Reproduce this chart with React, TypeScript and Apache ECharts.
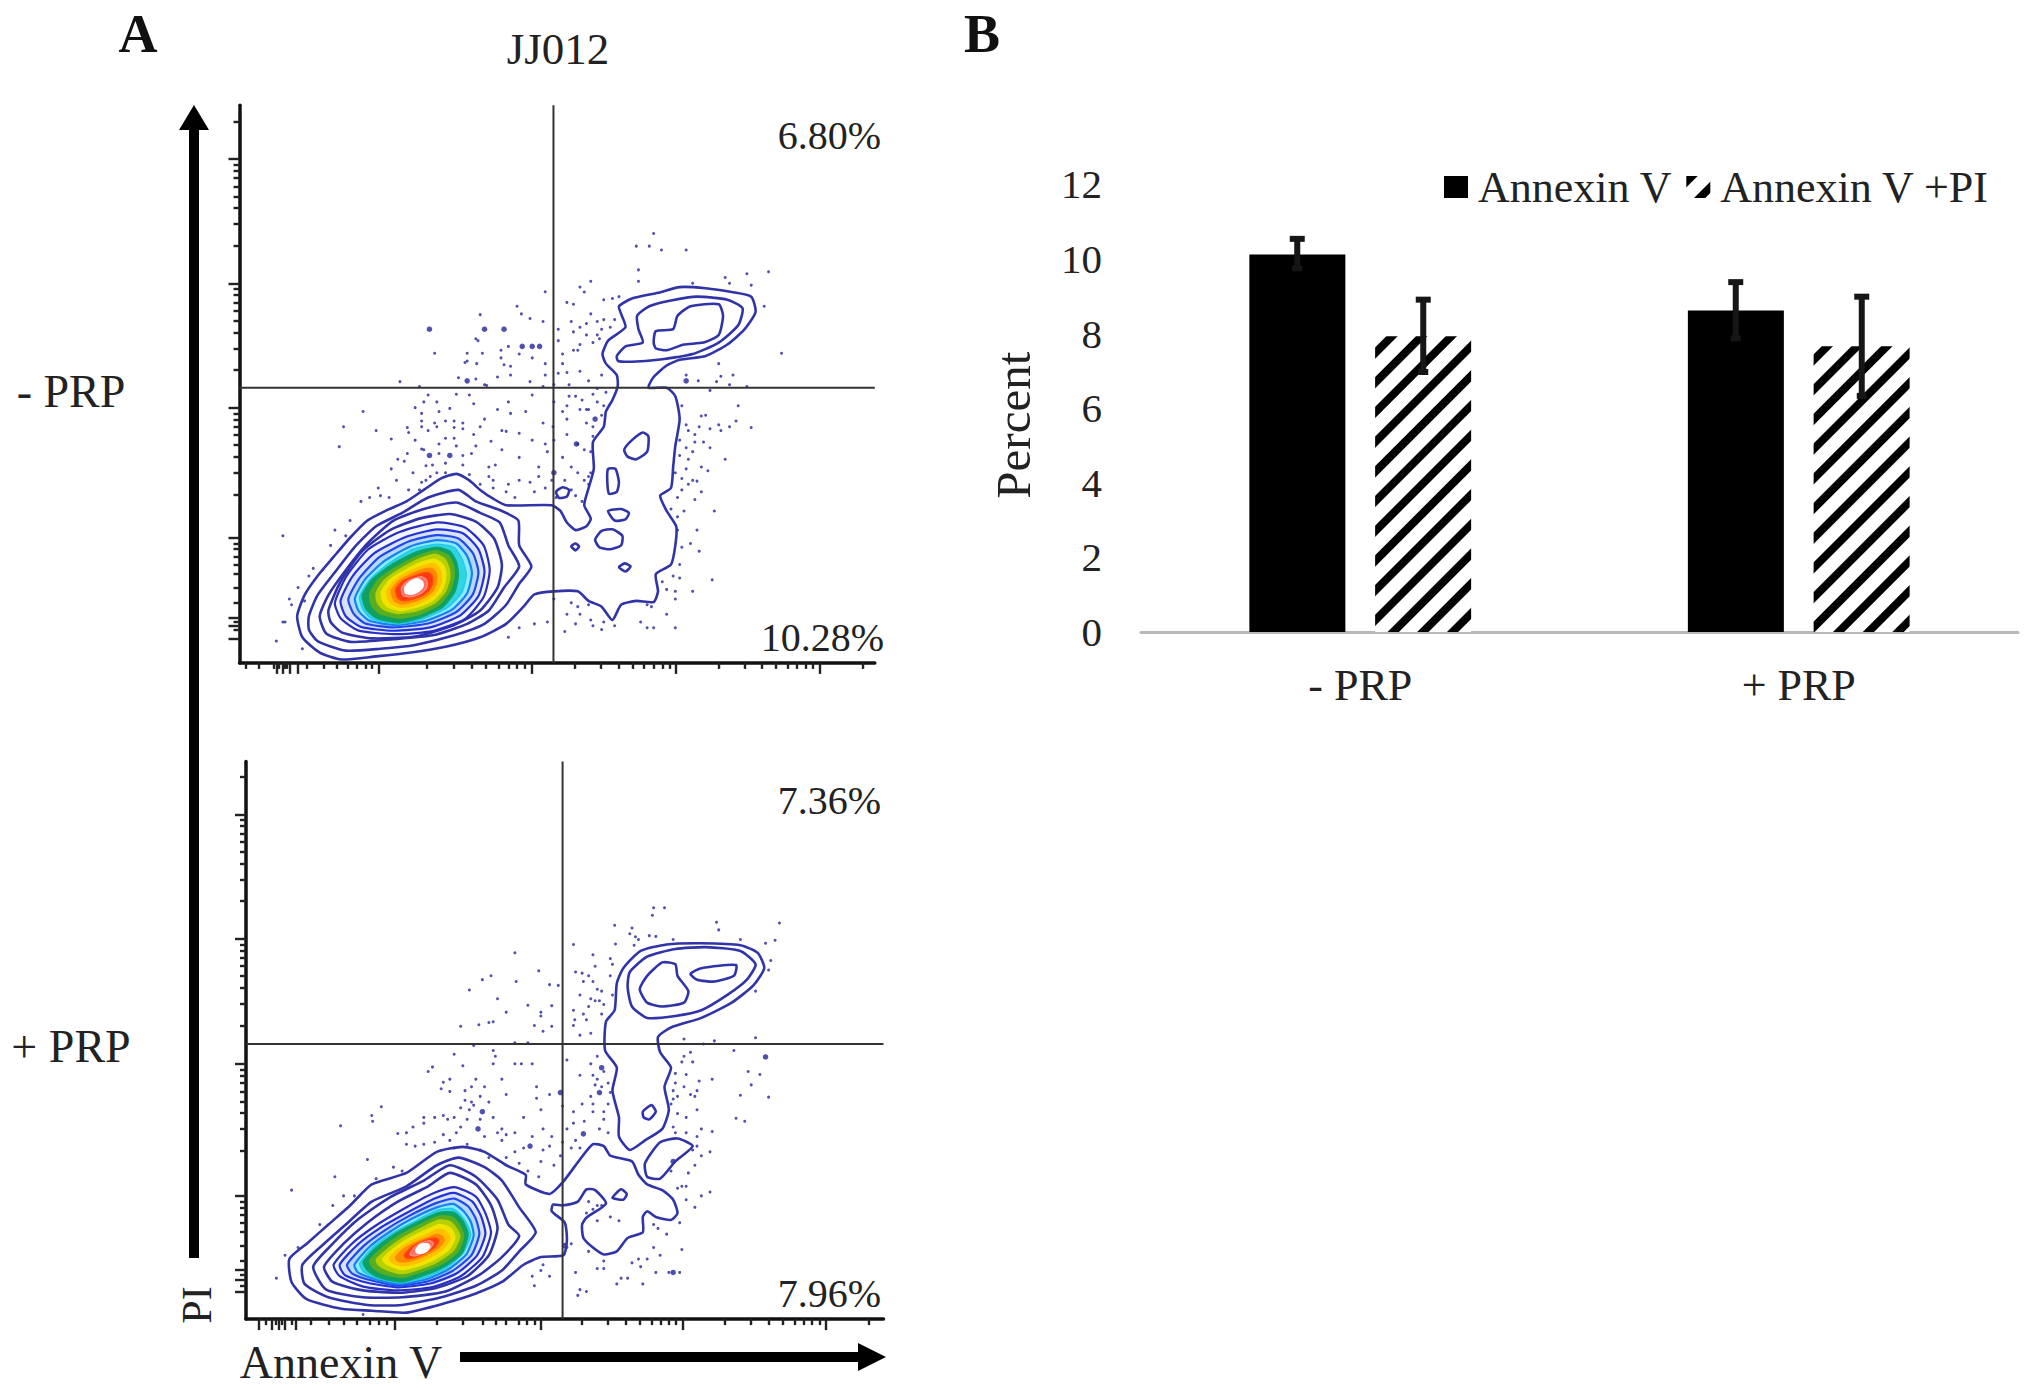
import React, { useEffect, useRef } from "react";
import * as echarts from "echarts";

type P = number[];

// ---------- Panel A, -PRP: axis units are the instrument's unlabelled display channels ----------
const topXRange = [45, 1510];
const topYRange = [40, 1497];
const topGateX = 769;
const topGateY = 778;
const topXMajor = [130, 145, 160, 180, 365, 718, 1052, 1383];
const topXMinor = [60, 90, 125, 135, 150, 155, 200, 240, 270, 295, 315, 335, 350, 477, 538, 581, 614, 642, 665, 685, 702, 819, 878, 919, 951, 978, 1000, 1020, 1037, 1150, 1209, 1250, 1282, 1309, 1331, 1351, 1368, 1483];
const topYMajor = [180, 505, 830, 1170, 1378, 1400, 1435];
const topYMinor = [82, 195, 211, 230, 252, 278, 309, 350, 407, 520, 536, 555, 577, 603, 634, 675, 732, 845, 861, 880, 902, 928, 959, 1000, 1057, 1185, 1200, 1220, 1240, 1265, 1300, 1340, 1390, 1410];

const topOuter: P[] = [[178,1375],[195,1320],[225,1270],[262,1220],[300,1170],[340,1125],[385,1098],[430,1075],[470,1045],[510,1015],[545,1003],[575,1020],[600,1045],[630,1068],[660,1085],[765,1085],[785,1100],[800,1130],[820,1150],[845,1140],[855,1120],[840,1085],[850,1040],[862,990],[860,920],[885,880],[890,840],[905,810],[917,775],[915,745],[890,715],[882,690],[895,655],[935,620],[925,585],[920,565],[950,545],[1010,530],[1060,515],[1120,518],[1180,528],[1225,540],[1235,580],[1210,625],[1170,665],[1120,695],[1060,705],[1030,720],[1000,750],[988,778],[1030,778],[1050,800],[1060,860],[1050,930],[1045,985],[1040,1040],[1015,1060],[1030,1100],[1052,1140],[1050,1190],[1040,1240],[1005,1265],[1010,1310],[1000,1338],[960,1335],[925,1345],[905,1385],[880,1350],[850,1335],[825,1310],[770,1310],[725,1318],[700,1350],[660,1395],[600,1430],[520,1455],[440,1470],[360,1480],[280,1488],[230,1470],[190,1430]];
const topNavy: P[][] = [
  [[205,1375],[225,1320],[265,1260],[310,1195],[360,1140],[420,1105],[480,1065],[550,1045],[590,1075],[650,1100],[688,1125],[690,1190],[718,1245],[690,1290],[660,1345],[610,1395],[540,1425],[450,1450],[370,1460],[290,1465],[225,1440],[205,1410]],
  [[230,1375],[250,1320],[290,1255],[340,1185],[400,1125],[470,1095],[545,1078],[600,1105],[645,1130],[665,1190],[690,1245],[655,1300],[620,1360],[570,1395],[490,1425],[400,1435],[300,1442],[245,1420]],
  [[250,1360],[278,1285],[328,1205],[392,1150],[460,1120],[530,1108],[590,1128],[632,1172],[650,1240],[640,1300],[600,1360],[540,1398],[450,1428],[350,1433],[282,1418],[255,1390]],
];
const topIslands: P[][] = [
  [[915,695],[935,670],[975,660],[965,625],[962,590],[990,565],[1040,550],[1100,540],[1170,548],[1205,570],[1195,615],[1150,660],[1090,690],[1010,705],[950,710],[918,708]],
  [[1000,660],[1005,630],[1045,625],[1055,590],[1085,565],[1150,560],[1160,590],[1150,640],[1115,660],[1070,665],[1030,680],[1005,675]],
  [[932,940],[950,915],[975,895],[988,905],[985,945],[960,965],[940,958]],
  [[895,990],[912,990],[920,1025],[915,1050],[897,1055],[893,1020]],
  [[895,1100],[925,1095],[943,1105],[935,1122],[910,1125]],
  [[865,1175],[880,1152],[905,1148],[928,1165],[925,1190],[900,1200],[875,1195]],
  [[810,1192],[820,1185],[828,1193],[820,1203]],
  [[920,1247],[933,1237],[947,1245],[935,1258]],
  [[775,1050],[790,1038],[805,1045],[800,1062],[782,1066]],
];
const topCore: P[][] = [
  [[265,1340],[292,1270],[342,1200],[414,1155],[500,1130],[565,1143],[608,1190],[622,1255],[608,1325],[565,1382],[490,1414],[400,1422],[318,1412],[278,1380]],
  [[278,1335],[306,1270],[356,1210],[428,1168],[500,1148],[560,1158],[596,1200],[610,1258],[596,1322],[555,1372],[485,1404],[400,1413],[325,1403],[290,1375]],
  [[296,1330],[322,1275],[368,1220],[435,1180],[500,1163],[550,1172],[583,1210],[596,1260],[583,1318],[545,1364],[480,1394],[400,1404],[335,1394],[308,1368]],
  [[311,1328],[335,1278],[380,1230],[440,1192],[500,1176],[545,1185],[570,1218],[581,1262],[570,1315],[535,1358],[475,1387],[405,1398],[345,1387],[320,1362]],
  [[322,1325],[345,1280],[388,1238],[445,1200],[500,1187],[540,1195],[558,1225],[568,1265],[558,1312],[525,1352],[470,1381],[410,1395],[350,1382],[330,1358]],
  [[328,1320],[350,1280],[393,1242],[450,1208],[500,1195],[530,1205],[545,1232],[550,1268],[542,1310],[515,1350],[465,1378],[412,1392],[360,1380],[336,1355]],
  [[345,1318],[365,1280],[405,1248],[455,1218],[498,1204],[525,1215],[538,1240],[540,1272],[530,1310],[505,1345],[460,1370],[412,1380],[368,1368],[350,1348]],
  [[360,1315],[378,1282],[415,1252],[460,1225],[497,1213],[518,1225],[528,1248],[530,1275],[520,1310],[495,1340],[455,1360],[412,1368],[378,1358],[363,1340]],
  [[372,1312],[390,1282],[422,1258],[462,1235],[495,1226],[512,1238],[520,1255],[520,1280],[510,1310],[488,1335],[452,1352],[415,1360],[386,1350],[375,1335]],
  [[385,1310],[400,1285],[430,1262],[465,1245],[492,1237],[505,1248],[510,1262],[510,1285],[500,1310],[480,1330],[450,1345],[418,1352],[395,1342],[387,1328]],
  [[395,1308],[410,1285],[435,1268],[468,1253],[488,1250],[497,1260],[500,1272],[498,1290],[490,1310],[472,1326],[447,1337],[420,1343],[403,1335],[397,1322]],
  [[405,1305],[420,1284],[442,1272],[468,1262],[483,1262],[490,1272],[490,1290],[482,1308],[465,1322],[445,1330],[423,1335],[410,1328]],
  [[418,1303],[430,1285],[448,1276],[465,1272],[476,1280],[478,1295],[470,1310],[455,1320],[437,1325],[422,1320]],
  [[426,1300],[438,1285],[455,1277],[467,1285],[468,1298],[458,1310],[442,1318],[428,1315]],
];
const topDots: P[] = [[1000,375],[960,408],[990,408],[1018,418],[1075,418],[965,470],[965,500],[1265,475],[1215,480],[1165,490],[1175,505],[1090,505],[1225,510],[855,500],[830,515],[840,528],[750,527],[920,540],[905,545],[885,548],[1255,565],[800,555],[815,560],[685,565],[600,587],[695,585],[715,597],[745,605],[885,600],[870,605],[845,610],[810,605],[815,632],[780,625],[900,620],[880,625],[595,655],[590,650],[570,688],[605,688],[648,680],[648,700],[665,670],[495,688],[565,712],[570,708],[592,715],[655,718],[670,722],[750,715],[790,715],[825,680],[815,680],[830,665],[780,655],[875,650],[870,640],[1295,688],[1150,715],[800,738],[780,740],[830,735],[850,760],[880,745],[670,745],[640,750],[550,752],[590,755],[415,762],[460,775],[610,770],[615,772],[715,762],[745,775],[770,770],[1075,745],[1155,748],[1183,745],[1103,760],[1145,762],[1175,770],[1215,775],[1130,785],[480,797],[470,815],[545,795],[575,797],[665,815],[670,845],[720,797],[705,840],[770,815],[805,800],[820,800],[835,810],[845,835],[830,835],[850,835],[870,815],[800,860],[860,880],[880,850],[530,832],[505,840],[465,845],[330,840],[285,880],[360,890],[395,912],[432,882],[435,895],[465,865],[465,880],[495,870],[500,880],[480,890],[520,865],[540,865],[560,870],[560,885],[540,882],[600,880],[650,890],[660,892],[690,897],[768,880],[770,915],[800,900],[860,905],[520,910],[470,940],[540,910],[545,930],[590,930],[625,918],[720,915],[750,925],[755,945],[825,925],[840,940],[855,945],[275,932],[432,950],[465,938],[560,955],[410,965],[425,970],[395,990],[475,982],[490,980],[520,975],[560,980],[620,985],[635,980],[765,1020],[850,1010],[855,1000],[850,1030],[620,1010],[630,1020],[475,1020],[465,1025],[485,1010],[365,1040],[370,1060],[435,1045],[390,1065],[630,1040],[660,1050],[680,1065],[715,1025],[725,1050],[750,1040],[775,1065],[810,1045],[840,1020],[820,1060],[835,1075],[325,1075],[1065,825],[1195,825],[1225,882],[1190,865],[1175,880],[1155,890],[1130,885],[1110,852],[1075,875],[1095,900],[1105,880],[1115,920],[1060,915],[1095,920],[1075,935],[1130,935],[1165,965],[1125,995],[1090,945],[1060,955],[1050,1000],[1065,1015],[1090,1020],[1100,1022],[1065,1045],[1095,1070],[1040,1095],[1055,1115],[1140,1100],[1100,1150],[1085,1185],[1105,1205],[1060,1240],[1045,1270],[1060,1275],[1135,1280],[1030,1305],[1050,1310],[1050,1330],[1090,1310],[770,1330],[825,1350],[850,1345],[830,1370],[855,1385],[820,1395],[885,1390],[880,1410],[795,1415],[755,1390],[725,1395],[690,1405],[665,1430],[970,1390],[985,1405],[1000,1405],[1050,1405],[995,1350],[985,1345],[145,1165],[265,1150],[300,1125],[255,1190],[290,1165],[215,1250],[205,1270],[180,1300],[160,1330],[165,1345],[195,1335],[150,1390],[130,1440],[190,1460],[145,1390],
  [450,830],[500,815],[585,820],[640,835],[610,860],[585,900],[505,925],[450,915],[445,1000],[505,950],[580,950],[650,940],[690,960],[735,985],[790,960],[810,985],[825,1000],[795,1020],[735,1010],[690,1020],[665,1030],[600,1030],[575,1005],[520,1000],[500,1000],[407,1020],[345,1065],[460,1045],[870,780],[890,790],[860,795],[800,825],[790,840],[885,825],[745,870],[845,870],[790,690],[805,770],[750,745],[720,700],[690,690],[1080,890],[1120,850],[1150,875],[1080,965],[1075,990],[1110,985],[1080,1030],[1110,1050],[1055,1065],[1070,1100],[1055,1150],[1065,1195],[1030,1370],[1020,1285],[910,1400],[800,1370],[860,1400],[810,1340],[910,600],[855,585],[845,640],[830,620],[860,660]];
const topBigDots: P[] = [[483,625],[610,625],[655,625],[697,670],[720,670],[737,670],[570,760],[1075,760],[865,860],[822,925],[483,955],[530,955],[770,1000]];

// ---------- Panel A, +PRP ----------
const botXRange = [60, 1530];
const botYRange = [30, 1487];
const botGateX = 790;
const botGateY = 768;
const botXMajor = [90, 120, 135, 150, 175, 403, 740, 1067, 1397];
const botXMinor = [105, 128, 142, 165, 210, 250, 285, 315, 345, 365, 385, 500, 560, 605, 635, 660, 688, 708, 725, 835, 893, 935, 968, 995, 1016, 1035, 1052, 1165, 1225, 1265, 1297, 1325, 1347, 1365, 1382, 1497];
const botYMajor = [168, 493, 820, 1165, 1358, 1385, 1415];
const botYMinor = [70, 183, 199, 218, 240, 266, 297, 338, 395, 508, 524, 543, 565, 591, 622, 663, 720, 835, 851, 870, 892, 918, 949, 990, 1047, 1180, 1195, 1215, 1235, 1260, 1295, 1335, 1370, 1400];

const botOuter: P[][] = [
  [[160,1330],[200,1290],[250,1240],[300,1190],[350,1135],[430,1105],[500,1050],[560,1037],[610,1050],[660,1085],[705,1110],[705,1135],[760,1160],[790,1130],[830,1070],[860,1030],[885,1035],[900,1060],[950,1075],[965,1110],[985,1135],[1020,1150],[1045,1175],[1055,1210],[1040,1228],[1005,1220],[985,1205],[975,1220],[975,1260],[940,1275],[915,1310],[885,1318],[860,1300],[838,1275],[835,1240],[845,1222],[890,1185],[865,1150],[845,1148],[825,1180],[790,1190],[768,1188],[765,1205],[795,1235],[800,1280],[792,1320],[740,1325],[700,1345],[650,1390],[590,1420],[520,1445],[430,1470],[350,1465],[280,1460],[200,1435],[165,1390]],
  [[190,1345],[240,1290],[290,1240],[350,1180],[430,1140],[500,1085],[550,1065],[610,1090],[650,1125],[690,1195],[728,1260],[690,1310],[650,1360],[590,1400],[510,1430],[420,1450],[340,1450],[250,1430],[195,1395]],
  [[215,1350],[260,1290],[320,1225],[390,1170],[470,1125],[530,1085],[590,1115],[640,1175],[665,1240],[690,1270],[650,1325],[600,1370],[520,1415],[420,1430],[330,1430],[245,1410]],
  [[240,1350],[285,1290],[340,1235],[410,1180],[480,1140],[530,1105],[590,1135],[625,1190],[640,1250],[620,1320],[570,1375],[500,1405],[420,1418],[330,1412],[260,1390]],
];
const botIslands: P[][] = [
  [[945,1045],[920,1010],[920,960],[905,890],[915,830],[888,785],[890,710],[910,680],[915,610],[930,570],[970,525],[1030,508],[1110,505],[1200,510],[1240,530],[1255,570],[1230,615],[1180,660],[1110,700],[1040,725],[1010,750],[1015,790],[1040,830],[1025,880],[1035,940],[1020,990],[980,1020]],
  [[940,620],[945,580],[985,540],[1050,520],[1120,515],[1200,525],[1235,560],[1215,600],[1170,640],[1110,680],[1050,695],[985,700],[950,670]],
  [[968,625],[985,590],[1020,555],[1050,560],[1055,590],[1080,630],[1070,660],[1020,670],[985,660]],
  [[1085,585],[1110,570],[1190,562],[1185,590],[1140,605],[1100,600]],
  [[975,945],[995,928],[1005,945],[990,965],[977,960]],
  [[980,1080],[1015,1025],[1055,1015],[1090,1035],[1050,1075],[1015,1120],[985,1115]],
  [[905,1170],[925,1148],[938,1160],[930,1175]],
];
const botCore: P[][] = [
  [[262,1345],[304,1290],[356,1245],[422,1200],[488,1160],[540,1142],[590,1167],[612,1210],[625,1262],[605,1325],[555,1375],[490,1403],[410,1412],[330,1402],[276,1375]],
  [[276,1345],[318,1292],[368,1250],[430,1210],[495,1172],[540,1157],[582,1180],[602,1218],[612,1265],[592,1322],[545,1368],[485,1394],[410,1404],[340,1392],[288,1372]],
  [[293,1345],[332,1295],[380,1255],[435,1218],[498,1184],[540,1172],[572,1192],[590,1225],[598,1265],[580,1320],[535,1362],[480,1388],[412,1399],[350,1386],[305,1368]],
  [[310,1345],[345,1298],[390,1260],[442,1225],[500,1195],[538,1186],[562,1205],[578,1232],[585,1268],[568,1318],[525,1358],[475,1383],[415,1395],[355,1382],[318,1365]],
  [[322,1342],[352,1300],[398,1262],[448,1232],[503,1202],[535,1198],[555,1215],[570,1240],[578,1268],[560,1315],[520,1355],[470,1380],[416,1392],[360,1380],[330,1362]],
  [[330,1338],[358,1302],[402,1265],[452,1235],[505,1208],[540,1208],[560,1230],[572,1265],[558,1315],[515,1352],[465,1375],[418,1390],[365,1378],[340,1360]],
  [[345,1335],[372,1303],[412,1270],[458,1242],[505,1218],[535,1220],[552,1240],[562,1270],[548,1312],[508,1345],[460,1365],[420,1378],[375,1368],[352,1352]],
  [[360,1332],[385,1305],[422,1275],[463,1250],[505,1228],[530,1232],[545,1250],[553,1272],[538,1308],[500,1338],[455,1358],[420,1368],[385,1358],[365,1345]],
  [[375,1330],[398,1305],[430,1280],[468,1258],[505,1240],[525,1245],[537,1258],[542,1275],[528,1305],[492,1332],[452,1350],[420,1358],[395,1350],[380,1340]],
  [[390,1328],[410,1305],[438,1285],[472,1268],[505,1252],[520,1258],[528,1268],[530,1280],[515,1303],[485,1325],[450,1342],[422,1348],[402,1342],[393,1335]],
  [[405,1325],[422,1305],[445,1290],[476,1275],[500,1265],[512,1270],[517,1280],[505,1300],[478,1318],[450,1332],[425,1338],[410,1335]],
  [[425,1320],[437,1303],[455,1290],[480,1278],[497,1275],[505,1282],[495,1300],[472,1315],[448,1326],[430,1328]],
  [[438,1318],[448,1300],[465,1288],[485,1282],[492,1290],[482,1305],[465,1316],[448,1322]],
  [[452,1305],[462,1292],[478,1290],[484,1298],[476,1310],[462,1316],[453,1313]],
];
const botDots: P[] = [[1000,412],[1025,412],[997,432],[1145,450],[1150,470],[1290,452],[910,458],[950,465],[958,488],[990,485],[1005,487],[965,495],[955,510],[1045,495],[1200,495],[1280,497],[1258,505],[815,508],[912,507],[680,530],[860,535],[905,560],[820,580],[835,583],[865,565],[735,577],[625,590],[605,600],[683,605],[575,627],[760,613],[780,615],[838,605],[860,605],[1265,575],[1235,630],[1270,550],[900,590],[640,650],[765,668],[710,667],[855,650],[865,655],[875,655],[885,665],[880,690],[815,680],[838,690],[818,705],[845,705],[660,685],[740,685],[740,695],[630,710],[620,712],[597,718],[555,722],[725,720],[745,735],[765,722],[815,720],[830,745],[855,740],[1235,752],[1070,755],[1115,768],[1140,760],[1085,790],[1070,800],[1065,815],[1090,815],[710,765],[680,765],[585,772],[630,785],[635,800],[540,795],[1185,785],[800,810],[855,820],[860,850],[870,860],[880,880],[560,825],[630,820],[680,820],[695,820],[720,820],[490,828],[480,840],[1050,845],[1075,848],[1105,865],[1135,860],[1218,840],[1245,848],[1225,875],[1265,907],[1200,902],[515,868],[510,885],[530,892],[565,890],[580,880],[600,905],[565,915],[580,920],[620,920],[660,900],[730,880],[830,850],[900,895],[1045,890],[1100,890],[1095,905],[1055,905],[1045,912],[1100,940],[1190,962],[1210,970],[555,935],[575,940],[585,928],[740,940],[790,930],[815,945],[835,925],[860,945],[372,932],[350,955],[352,970],[470,960],[470,975],[515,955],[525,965],[555,985],[600,965],[650,990],[680,1000],[745,990],[885,965],[875,990],[895,1000],[278,982],[410,1002],[430,1000],[445,985],[515,1005],[545,1000],[530,1020],[610,1010],[650,1020],[660,1005],[745,1045],[765,1010],[820,1020],[790,1025],[1135,997],[1100,1010],[1100,1035],[1130,1050],[1075,1000],[1090,1045],[470,1030],[495,1025],[450,1035],[620,1065],[660,1065],[690,1080],[740,1075],[770,1085],[735,1115],[710,1100],[340,1070],[400,1090],[420,1100],[360,1120],[265,1115],[165,1150],[285,1165],[310,1165],[260,1190],[230,1240],[180,1300],[150,1320],[1075,1140],[1110,1165],[1130,1155],[1095,1195],[1065,1140],[1055,1145],[1000,1240],[1010,1250],[1030,1265],[850,1180],[870,1190],[845,1210],[860,1200],[880,1190],[870,1230],[900,1220],[920,1230],[1065,1305],[1015,1320],[965,1330],[950,1340],[970,1350],[885,1335],[885,1355],[820,1365],[915,1395],[925,1380],[975,1395],[1005,1365],[1035,1365],[1060,1365],[830,1410],[845,1415],[825,1425],[745,1345],[740,1360],[720,1375],[725,1400],[760,1375],[800,1300],[810,1290],[850,1310],[130,1380],[330,1475],
  [870,800],[885,840],[865,875],[895,870],[855,905],[860,925],[895,925],[885,945],[840,970],[815,975],[800,990],[830,1040],[810,1040],[785,1060],[760,1035],[720,1010],[700,1040],[680,1050],[600,1045],[570,1030],[540,1040],[430,1030],[495,960],[540,960],[570,965],[630,960],[640,1000],[700,960],[730,910],[760,900],[650,860],[610,880],[590,860],[530,860],[1050,870],[1070,880],[1085,900],[1040,925],[1055,950],[1075,960],[1045,985],[1050,1000],[1110,990],[1110,1060],[1095,1085],[1080,1105],[1040,1100],[1075,1175],[1060,1235],[1000,1300],[985,1330],[940,1380],[870,1355],[850,590],[870,625],[830,640],[880,630],[905,640],[850,670],[900,545],[945,480]];
const botBigDots: P[] = [[880,830],[875,895],[595,990],[605,945],[838,1003],[715,1035],[785,895],[1258,802],[1045,1075],[1045,1365],[795,1295]];

// ---------- Panel B ----------
const barCategories = ["- PRP", "+ PRP"];
const annexinV = [10.12, 8.62];
const annexinVPI = [7.93, 7.66];
const annexinVLow = [9.75, 7.87];
const annexinVHigh = [10.54, 9.38];
const annexinVPILow = [6.97, 6.33];
const annexinVPIHigh = [8.91, 8.99];

// ---------- Colours, outermost to innermost contour level ----------
const NAVY = "#3034a8";
const coreStroke = ["#2a2ec0", "#2232d8", "#1e48ea", "#1a80f0", "#22c8ee", "#0ea46c", "#58ae20", "#b8d000", "#f0e400", "#ffc000", "#ff8a00", "#ff4a10", "#ff8a80", "#ffffff"];
const coreFill = ["#f2f4ff", "#d8e2ff", "#b4d8ff", "#88ecfa", "#30d4e4", "#10a060", "#58ae20", "#b8d000", "#f0e400", "#ffc000", "#ff8a00", "#ff3a10", "#ff7060", "#ffffff"];
const SERIF = "Liberation Serif";
const INK = "#222222";

function contourSeries(xi: number, yi: number, outer: P[][], islands: P[][], core: P[][]) {
  const rings = [
    ...outer.map((pts) => ({ pts, stroke: NAVY, fill: "none", w: 2.6 })),
    ...core.map((pts, i) => ({ pts, stroke: coreStroke[i], fill: coreFill[i], w: i < 4 ? 2.2 : 1.4 })),
    ...islands.map((pts) => ({ pts, stroke: NAVY, fill: "none", w: 2.6 })),
  ];
  return {
    type: "custom",
    xAxisIndex: xi,
    yAxisIndex: yi,
    silent: true,
    z: 4,
    data: rings.map((_, i) => [i]),
    renderItem: (_: unknown, api: any) => {
      const r = rings[api.value(0)];
      return {
        type: "polygon",
        shape: { points: r.pts.map((p) => api.coord(p)), smooth: 0.2 },
        style: { fill: r.fill, stroke: r.stroke, lineWidth: r.w, lineJoin: "round" },
      };
    },
  };
}

function gateSeries(xi: number, yi: number, gx: number, gy: number, xr: number[], yr: number[]) {
  const base = { type: "line", xAxisIndex: xi, yAxisIndex: yi, symbol: "none", silent: true, z: 5, lineStyle: { color: "#333333", width: 2 } };
  return [
    { ...base, data: [[gx, yr[0]], [gx, yr[1]]] },
    { ...base, data: [[xr[0], gy], [xr[1], gy]] },
  ];
}

function dotSeries(xi: number, yi: number, small: P[], big: P[]) {
  const base = { type: "scatter", xAxisIndex: xi, yAxisIndex: yi, silent: true, z: 3, itemStyle: { color: "#24249a" } };
  return [
    { ...base, data: small, symbolSize: 3 },
    { ...base, data: big, symbolSize: 5.5 },
  ];
}

function flowAxes(grid: number, xr: number[], yr: number[], xMaj: number[], xMin: number[], yMaj: number[], yMin: number[]) {
  const x = (vals: number[], len: number, line: boolean) => ({
    type: "value", gridIndex: grid, min: xr[0], max: xr[1], position: "bottom",
    splitLine: { show: false }, axisLabel: { show: false },
    axisLine: { show: line, onZero: false, lineStyle: { color: "#111", width: 3.5 } },
    axisTick: { show: true, length: len, customValues: vals, lineStyle: { color: "#222", width: 2.4 } },
  });
  const y = (vals: number[], len: number, line: boolean) => ({
    type: "value", gridIndex: grid, min: yr[0], max: yr[1], inverse: true, position: "left",
    splitLine: { show: false }, axisLabel: { show: false },
    axisLine: { show: line, onZero: false, lineStyle: { color: "#111", width: 3.5 } },
    axisTick: { show: true, length: len, customValues: vals, lineStyle: { color: "#222", width: 2.4 } },
  });
  return { xs: [x(xMaj, 11, true), x(xMin, 6, false)], ys: [y(yMaj, 11, true), y(yMin, 6, false)] };
}

const label = (text: string, x: number, y: number, fontSize: number, extra: any = {}) => ({
  type: "text",
  x,
  y,
  ...extra.el,
  style: { text, fontSize, fontFamily: SERIF, fill: INK, textAlign: "center", textVerticalAlign: "middle", ...extra.style },
});

export default function App() {
  const ref = useRef<HTMLDivElement>(null);
  useEffect(() => {
    const chart = echarts.init(ref.current!, undefined, { renderer: "svg" });
    const a1 = flowAxes(0, topXRange, topYRange, topXMajor, topXMinor, topYMajor, topYMinor);
    const a2 = flowAxes(1, botXRange, botYRange, botXMajor, botXMinor, botYMajor, botYMinor);
    const hatch = {
      symbol: "rect",
      dashArrayX: [1, 0],
      dashArrayY: [7.5, 12.8],
      rotation: -Math.PI / 4,
      color: "#000000",
      backgroundColor: "#ffffff",
    };
    const errData = [0, 1].flatMap((c) => [
      [c, annexinVLow[c], annexinVHigh[c], -63],
      [c, annexinVPILow[c], annexinVPIHigh[c], 63],
    ]);
    chart.setOption({
      animation: false,
      backgroundColor: "#ffffff",
      grid: [
        { left: 239.5, top: 105.3, width: 635.3, height: 557.6 },
        { left: 246, top: 761.5, width: 637.5, height: 557.6 },
        { left: 1141, top: 184.4, width: 877, height: 447.6 },
      ],
      xAxis: [
        ...a1.xs,
        ...a2.xs,
        {
          type: "category", gridIndex: 2, data: barCategories,
          axisTick: { show: false },
          axisLine: { lineStyle: { color: "#b8b8b8", width: 3 } },
          axisLabel: { fontFamily: SERIF, fontSize: 44, color: INK, margin: 31 },
        },
      ],
      yAxis: [
        ...a1.ys,
        ...a2.ys,
        {
          type: "value", gridIndex: 2, min: 0, max: 12, interval: 2,
          splitLine: { show: false }, axisLine: { show: false }, axisTick: { show: false },
          axisLabel: { fontFamily: SERIF, fontSize: 41, color: INK, margin: 39, padding: [5, 0, 0, 0] },
          name: "Percent", nameLocation: "middle", nameGap: 103,
          nameTextStyle: { fontFamily: SERIF, fontSize: 49, color: INK, padding: [0, 34, 0, 0] },
        },
      ],
      legend: {
        data: [
          { name: "Annexin V", icon: "rect" },
          { name: "Annexin V +PI", icon: "rect" },
        ],
        left: 1444,
        top: 165,
        itemWidth: 24,
        itemHeight: 22,
        itemGap: 14,
        padding: 0,
        textStyle: { fontFamily: SERIF, fontSize: 44, color: INK, padding: [4, 0, 0, 5] },
      },
      series: [
        ...dotSeries(0, 0, topDots, topBigDots),
        contourSeries(0, 0, [topOuter, ...topNavy], topIslands, topCore),
        ...gateSeries(0, 0, topGateX, topGateY, topXRange, topYRange),
        ...dotSeries(2, 2, botDots, botBigDots),
        contourSeries(2, 2, botOuter, botIslands, botCore),
        ...gateSeries(2, 2, botGateX, botGateY, botXRange, botYRange),
        {
          name: "Annexin V", type: "bar", xAxisIndex: 4, yAxisIndex: 4, data: annexinV,
          barWidth: 96, barGap: "31%", itemStyle: { color: "#000000" },
        },
        {
          name: "Annexin V +PI", type: "bar", xAxisIndex: 4, yAxisIndex: 4, data: annexinVPI,
          barWidth: 96, barGap: "31%", itemStyle: { color: "#ffffff", decal: hatch },
        },
        {
          type: "custom", xAxisIndex: 4, yAxisIndex: 4, z: 6, silent: true,
          encode: { x: 0, y: [1, 2] },
          data: errData,
          renderItem: (_: unknown, api: any) => {
            const lo = api.coord([api.value(0), api.value(1)]);
            const hi = api.coord([api.value(0), api.value(2)]);
            const x = lo[0] + api.value(3);
            return {
              type: "group",
              children: [
                { type: "line", shape: { x1: x, y1: hi[1], x2: x, y2: lo[1] }, style: { stroke: "#161616", lineWidth: 6 } },
                { type: "rect", shape: { x: x - 7.5, y: hi[1] - 3, width: 15, height: 6 }, style: { fill: "#161616" } },
                { type: "rect", shape: { x: x - 5, y: lo[1] - 3, width: 10, height: 6 }, style: { fill: "#161616" } },
              ],
            };
          },
        },
      ],
      graphic: [
        label("A", 138, 34, 54, { style: { fontWeight: "bold", fill: "#111" } }),
        label("B", 982, 34, 54, { style: { fontWeight: "bold", fill: "#111" } }),
        label("JJ012", 558, 49, 45),
        label("- PRP", 71, 391, 46),
        label("+ PRP", 71, 1046, 46),
        label("6.80%", 881, 135, 40, { style: { textAlign: "right" } }),
        label("10.28%", 884, 637, 40, { style: { textAlign: "right" } }),
        label("7.36%", 881, 800, 40, { style: { textAlign: "right" } }),
        label("7.96%", 881, 1293, 40, { style: { textAlign: "right" } }),
        label("Annexin V", 341, 1362, 46),
        label("PI", 197, 1305, 42, { el: { rotation: Math.PI / 2 } }),
        { type: "rect", shape: { x: 189, y: 128, width: 10, height: 1130 }, style: { fill: "#000" } },
        { type: "polygon", shape: { points: [[179, 130], [209, 130], [194, 105]] }, style: { fill: "#000" } },
        { type: "rect", shape: { x: 460, y: 1352, width: 400, height: 10 }, style: { fill: "#000" } },
        { type: "polygon", shape: { points: [[858, 1343], [858, 1371], [886, 1357]] }, style: { fill: "#000" } },
      ],
    });
    return () => chart.dispose();
  }, []);
  return <div ref={ref} style={{ position: "fixed", left: 0, top: 0, width: 2031, height: 1388 }} />;
}
